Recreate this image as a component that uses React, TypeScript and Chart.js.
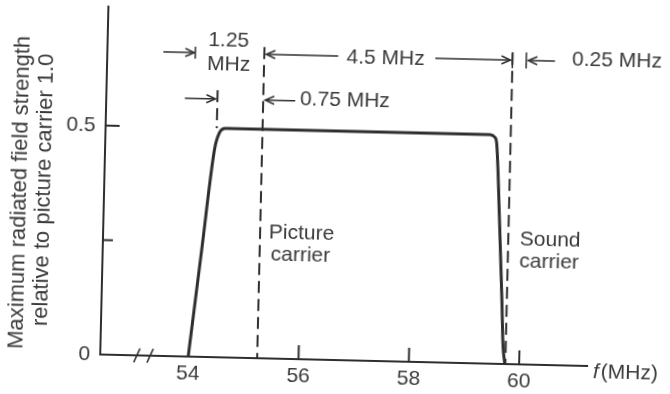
import React, { useEffect, useRef } from "react";
import { Chart, registerables } from "chart.js";

Chart.register(...registerables);

// ---------------- data ----------------
const freqMHz = [54, 54.2, 54.39, 54.47, 54.58, 55.5, 57, 58.5, 59.37, 59.46, 59.5, 59.58, 59.66, 59.7, 59.74];
const relStrength = [0, 0.235, 0.455, 0.49, 0.5, 0.5, 0.5, 0.5, 0.5, 0.495, 0.48, 0.32, 0.14, 0.04, 0];

const pictureCarrierMHz = 55.25;
const soundCarrierMHz = 59.75;
const sidebandEdgeMHz = 54.42;
const channelLowMHz = 54;
const channelHighMHz = 60;
const carrierMarkerSpan = [0.68, 0];
const sidebandMarkerSpan = [0.583, 0.5];

const xTickValues = [54, 56, 58, 60];
const xTickLabels = ["54", "56", "58", "60"];
const xTickMarks = [56, 58, 60];
const yTickValues = [0, 0.25, 0.5];
const yTickLabels = ["0", "", "0.5"];
const xRange = [52.405, 61.232];
const yRange = [0, 0.76];

const yTitleLines = ["Maximum radiated field strength", "relative to picture carrier 1.0"];

// ---------------- styles ----------------
const FONT = '"Liberation Sans", Arial, Helvetica, sans-serif';
const INK = "#2e2e2e";
const TEXT = "#3a3a3a";

function arrow(ctx: CanvasRenderingContext2D, x1: number, y: number, x2: number) {
  ctx.beginPath();
  ctx.moveTo(x1, y);
  ctx.lineTo(x2, y);
  ctx.stroke();
  const d = Math.sign(x2 - x1);
  ctx.beginPath();
  ctx.moveTo(x2 - d * 9, y - 4);
  ctx.lineTo(x2, y);
  ctx.lineTo(x2 - d * 9, y + 4);
  ctx.stroke();
}

function bar(ctx: CanvasRenderingContext2D, x: number, yc: number, h: number) {
  ctx.beginPath();
  ctx.moveTo(x, yc - h);
  ctx.lineTo(x, yc + h);
  ctx.stroke();
}

const annotate = {
  id: "annotate",
  afterDraw(chart: any) {
    const { ctx, chartArea } = chart;
    const xs = chart.scales.x;
    const ys = chart.scales.y;
    const X = (v: number) => xs.getPixelForValue(v);
    const Y = (v: number) => ys.getPixelForValue(v);
    ctx.save();
    ctx.strokeStyle = INK;
    ctx.fillStyle = TEXT;

    // inward tick marks
    ctx.lineWidth = 2;
    xTickMarks.forEach((v) => {
      ctx.beginPath();
      ctx.moveTo(X(v), chartArea.bottom);
      ctx.lineTo(X(v), chartArea.bottom - 14);
      ctx.stroke();
    });
    ctx.beginPath();
    ctx.moveTo(chartArea.left, Y(0.5));
    ctx.lineTo(chartArea.left + 14, Y(0.5));
    ctx.moveTo(chartArea.left, Y(0.25));
    ctx.lineTo(chartArea.left + 10, Y(0.25));
    ctx.stroke();

    // axis break
    ctx.lineWidth = 1.6;
    [53.07, 53.31].forEach((v) => {
      ctx.beginPath();
      ctx.moveTo(X(v) - 3, chartArea.bottom + 7);
      ctx.lineTo(X(v) + 3, chartArea.bottom - 7);
      ctx.stroke();
    });

    // dimension arrows
    ctx.lineWidth = 1.5;
    const r1 = Y(0.664);
    const r2 = Y(0.564);
    arrow(ctx, X(53.42), r1, X(channelLowMHz) - 1);
    bar(ctx, X(channelLowMHz), r1, 6);
    arrow(ctx, X(56.59), r1, X(pictureCarrierMHz) + 2);
    arrow(ctx, X(58.35), r1, X(soundCarrierMHz) - 2);
    bar(ctx, X(soundCarrierMHz), r1, 8);
    bar(ctx, X(channelHighMHz), r1, 8);
    arrow(ctx, X(60.52), r1, X(channelHighMHz) + 2);
    arrow(ctx, X(53.83), r2, X(sidebandEdgeMHz) - 2);
    arrow(ctx, X(55.83), r2, X(pictureCarrierMHz) + 2);

    // texts
    ctx.font = `21px ${FONT}`;
    ctx.textBaseline = "middle";
    ctx.textAlign = "center";
    ctx.fillText("1.25", X(54.6), Y(0.691));
    ctx.fillText("MHz", X(54.61), Y(0.64));
    ctx.fillText("4.5 MHz", X(57.45), Y(0.662));
    ctx.fillText("0.75 MHz", X(56.73), Y(0.568));
    ctx.textAlign = "left";
    ctx.fillText("0.25 MHz", X(60.83), Y(0.667));
    ctx.fillText("Picture", X(55.41), Y(0.274));
    ctx.fillText("carrier", X(55.45), Y(0.226));
    ctx.fillText("Sound", X(59.96), Y(0.272));
    ctx.fillText("carrier", X(59.96), Y(0.224));

    // x-axis title
    const fx = X(61.34);
    const fy = Y(-0.013);
    ctx.font = `italic 21px ${FONT}`;
    ctx.fillText("f", fx, fy);
    const fw = ctx.measureText("f").width;
    ctx.font = `21px ${FONT}`;
    ctx.fillText("(MHz)", fx + fw + 2, fy);

    // y-axis title
    ctx.font = `22px ${FONT}`;
    ctx.textAlign = "center";
    ctx.translate(chartArea.left - 84, Y(0.35));
    ctx.rotate(-Math.PI / 2);
    ctx.fillText(yTitleLines[0], 0, 0);
    ctx.fillText(yTitleLines[1], 3, 24);
    ctx.restore();
  },
};

export default function App() {
  const ref = useRef<HTMLCanvasElement | null>(null);

  useEffect(() => {
    if (!ref.current) return;
    const dashed = (x: number, span: number[]) => ({
      data: span.map((v) => ({ x, y: v })),
      borderColor: INK,
      borderWidth: 2,
      borderDash: [12, 6],
      pointRadius: 0,
      fill: false,
    });
    const zeroPad = (s: any) => {
      s.paddingTop = 0;
      s.paddingBottom = 0;
      s.paddingLeft = 0;
      s.paddingRight = 0;
    };
    const chart = new Chart(ref.current, {
      type: "line",
      data: {
        datasets: [
          {
            data: freqMHz.map((f, i) => ({ x: f, y: relStrength[i] })),
            borderColor: INK,
            borderWidth: 3,
            pointRadius: 0,
            cubicInterpolationMode: "monotone",
            borderJoinStyle: "round",
            fill: false,
          } as any,
          dashed(pictureCarrierMHz, carrierMarkerSpan),
          dashed(soundCarrierMHz, carrierMarkerSpan),
          dashed(sidebandEdgeMHz, sidebandMarkerSpan),
        ],
      },
      options: {
        responsive: false,
        animation: false,
        events: [],
        layout: { padding: { top: 12, right: 79, left: 0, bottom: 0 } },
        plugins: { legend: { display: false }, tooltip: { enabled: false } },
        scales: {
          x: {
            type: "linear",
            min: xRange[0],
            max: xRange[1],
            afterBuildTicks: (s: any) => {
              s.ticks = xTickValues.map((v) => ({ value: v }));
            },
            afterFit: (s: any) => {
              s.height = 34;
              zeroPad(s);
            },
            ticks: {
              autoSkip: false,
              maxRotation: 0,
              padding: 5,
              color: TEXT,
              font: { family: FONT, size: 21 },
              callback: (v: any) => xTickLabels[xTickValues.indexOf(Number(v))] ?? "",
            },
            grid: { drawOnChartArea: false, drawTicks: false },
            border: { color: INK, width: 2 },
          },
          y: {
            type: "linear",
            min: yRange[0],
            max: yRange[1],
            afterBuildTicks: (s: any) => {
              s.ticks = yTickValues.map((v) => ({ value: v }));
            },
            afterFit: (s: any) => {
              s.width = 104;
              zeroPad(s);
            },
            ticks: {
              autoSkip: false,
              padding: 10,
              color: TEXT,
              font: { family: FONT, size: 21 },
              callback: (v: any) => yTickLabels[yTickValues.indexOf(Number(v))] ?? "",
            },
            grid: { drawOnChartArea: false, drawTicks: false },
            border: { color: INK, width: 2 },
          },
        },
      } as any,
      plugins: [annotate],
    });
    return () => chart.destroy();
  }, []);

  return (
    <div
      style={{
        position: "fixed",
        left: 0,
        top: 0,
        width: 670,
        height: 394,
        background: "#fff",
        transform: "rotate(1.35deg)",
        transformOrigin: "335px 197px",
      }}
    >
      <canvas ref={ref} width={670} height={394} style={{ display: "block" }} />
    </div>
  );
}
